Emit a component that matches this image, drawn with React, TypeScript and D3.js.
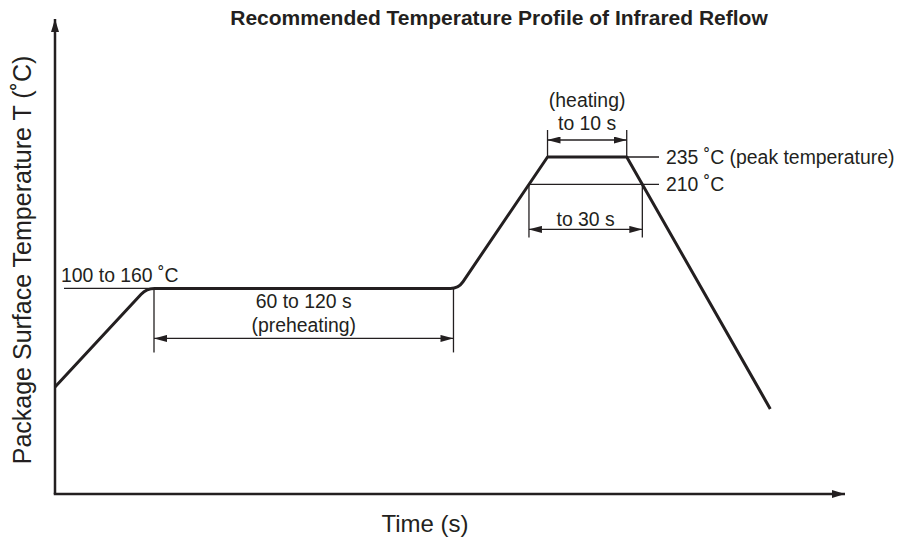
import React, { useEffect, useRef } from "react";
import * as d3 from "d3";

// schematic reflow profile: key points (time s, temperature ˚C)
const profileTime = [0, 37, 163, 199, 231, 289];
const profileTemp = [25, 115, 115, 235, 235, 5];
const roundedCorners = [1, 2];

const preheatZone = [40, 161];
const peakZone = [199, 231];
const preheatLevel = 115;
const peakLevel = 235;
const reflowLevel = 210;

const titleText = "Recommended Temperature Profile of Infrared Reflow";
const xLabel = "Time (s)";
const yLabel = "Package Surface Temperature T (˚C)";
const preheatLevelText = "100 to 160 ˚C";
const preheatText = ["60 to 120 s", "(preheating)"];
const heatingText = ["(heating)", "to 10 s"];
const reflowText = "to 30 s";
const levelText = ["235 ˚C (peak temperature)", "210 ˚C"];

const INK = "#231f20";
const FONT = "'Liberation Sans', Arial, Helvetica, sans-serif";

// time where the profile crosses a temperature
function crossings(temp: number) {
  const out: number[] = [];
  for (let i = 0; i < profileTime.length - 1; i++) {
    const a = profileTemp[i];
    const b = profileTemp[i + 1];
    if (a === b) continue;
    if ((temp - a) * (temp - b) <= 0) {
      out.push(profileTime[i] + ((temp - a) / (b - a)) * (profileTime[i + 1] - profileTime[i]));
    }
  }
  return out;
}

export default function App() {
  const ref = useRef<SVGSVGElement>(null);

  useEffect(() => {
    const width = 899;
    const height = 540;
    const svg = d3.select(ref.current);
    svg.selectAll("*").remove();

    const x = d3.scaleLinear().domain([0, 320]).range([55, 847]);
    const y = d3.scaleLinear().domain([25, 235]).range([387, 157]);
    const axisY = 494;
    const axisTop = 17;

    svg.append("rect").attr("width", width).attr("height", height).attr("fill", "#fff");

    const defs = svg.append("defs");
    defs
      .append("marker")
      .attr("id", "dim")
      .attr("viewBox", "0 0 13 7")
      .attr("refX", 13)
      .attr("refY", 3.5)
      .attr("markerWidth", 13)
      .attr("markerHeight", 7)
      .attr("markerUnits", "userSpaceOnUse")
      .attr("orient", "auto-start-reverse")
      .append("path")
      .attr("d", "M0,0L13,3.5L0,7Z")
      .attr("fill", INK);
    defs
      .append("marker")
      .attr("id", "ax")
      .attr("viewBox", "0 0 13 8")
      .attr("refX", 13)
      .attr("refY", 4)
      .attr("markerWidth", 13)
      .attr("markerHeight", 8)
      .attr("markerUnits", "userSpaceOnUse")
      .attr("orient", "auto")
      .append("path")
      .attr("d", "M0,0L13,4L0,8Z")
      .attr("fill", INK);

    // axes
    svg
      .append("path")
      .attr("d", `M${x(0)},${axisY}V${axisTop + 2}`)
      .attr("stroke", INK)
      .attr("stroke-width", 2.5)
      .attr("fill", "none")
      .attr("marker-end", "url(#ax)");
    svg
      .append("path")
      .attr("d", `M${x(0) - 1.25},${axisY}H${x(320) - 2}`)
      .attr("stroke", INK)
      .attr("stroke-width", 2.5)
      .attr("fill", "none")
      .attr("marker-end", "url(#ax)");

    // profile with rounded preheat corners
    const pts = profileTime.map((t, i) => [x(t), y(profileTemp[i])]);
    const p = d3.path();
    const r = 8;
    p.moveTo(pts[0][0], pts[0][1]);
    for (let i = 1; i < pts.length; i++) {
      const [px, py] = pts[i];
      if (roundedCorners.includes(i) && i < pts.length - 1) {
        const [ax, ay] = pts[i - 1];
        const [bx, by] = pts[i + 1];
        const la = Math.hypot(px - ax, py - ay);
        const lb = Math.hypot(bx - px, by - py);
        p.lineTo(px - (r * (px - ax)) / la, py - (r * (py - ay)) / la);
        p.quadraticCurveTo(px, py, px + (r * (bx - px)) / lb, py + (r * (by - py)) / lb);
      } else {
        p.lineTo(px, py);
      }
    }
    svg
      .append("path")
      .attr("d", p.toString())
      .attr("fill", "none")
      .attr("stroke", INK)
      .attr("stroke-width", 3)
      .attr("stroke-linejoin", "round");

    const thin = svg.append("g").attr("stroke", INK).attr("stroke-width", 1.3).attr("fill", "none");
    const line = (x1: number, y1: number, x2: number, y2: number) =>
      thin.append("line").attr("x1", x1).attr("y1", y1).attr("x2", x2).attr("y2", y2);
    const dim = (x1: number, x2: number, yy: number) =>
      thin
        .append("line")
        .attr("x1", x1)
        .attr("y1", yy)
        .attr("x2", x2)
        .attr("y2", yy)
        .attr("marker-start", "url(#dim)")
        .attr("marker-end", "url(#dim)");

    // preheat level leader + dimension
    const yPre = y(preheatLevel);
    line(64, yPre, x(preheatZone[0]), yPre);
    preheatZone.forEach((t) => line(x(t), yPre, x(t), yPre + 64));
    dim(x(preheatZone[0]), x(preheatZone[1]), yPre + 50);

    // peak dimension
    const yPeak = y(peakLevel);
    peakZone.forEach((t) => line(x(t), yPeak - 27, x(t), yPeak));
    dim(x(peakZone[0]), x(peakZone[1]), yPeak - 17);

    // leaders at 235 and 210
    const leaderX = 659;
    line(x(peakZone[1]), yPeak, leaderX, yPeak);
    const c210 = crossings(reflowLevel);
    const y210 = y(reflowLevel);
    line(x(c210[0]), y210, leaderX, y210);
    c210.forEach((t) => line(x(t), y210, x(t), y210 + 53));
    dim(x(c210[0]), x(c210[1]), y210 + 45);

    // texts
    const txt = (s: string, tx: number, ty: number, size: number, anchor = "start") =>
      svg
        .append("text")
        .attr("x", tx)
        .attr("y", ty)
        .attr("font-size", size)
        .attr("font-family", FONT)
        .attr("fill", INK)
        .attr("text-anchor", anchor)
        .text(s);

    txt(titleText, 499, 25, 21, "middle").attr("font-weight", "bold");
    txt(xLabel, 425, 532, 24, "middle");
    txt(yLabel, 0, 0, 25, "middle").attr("transform", "translate(31,260) rotate(-90)");

    const fs = 19.4;
    txt(preheatLevelText, 61, yPre - 6, fs);
    const preMid = (x(preheatZone[0]) + x(preheatZone[1])) / 2;
    txt(preheatText[0], preMid, yPre + 20, fs, "middle");
    txt(preheatText[1], preMid, yPre + 44, fs, "middle");

    const peakMid = (x(peakZone[0]) + x(peakZone[1])) / 2;
    txt(heatingText[0], peakMid, yPeak - 50, fs, "middle");
    txt(heatingText[1], peakMid, yPeak - 27, fs, "middle");
    txt(reflowText, (x(c210[0]) + x(c210[1])) / 2, y210 + 42, fs, "middle");

    txt(levelText[0], 666, yPeak + 6.5, fs);
    txt(levelText[1], 666, y210 + 6.5, fs);
  }, []);

  return (
    <div>
      <svg
        ref={ref}
        width={899}
        height={540}
        style={{ position: "absolute", left: 0, top: 0, display: "block" }}
      />
    </div>
  );
}
